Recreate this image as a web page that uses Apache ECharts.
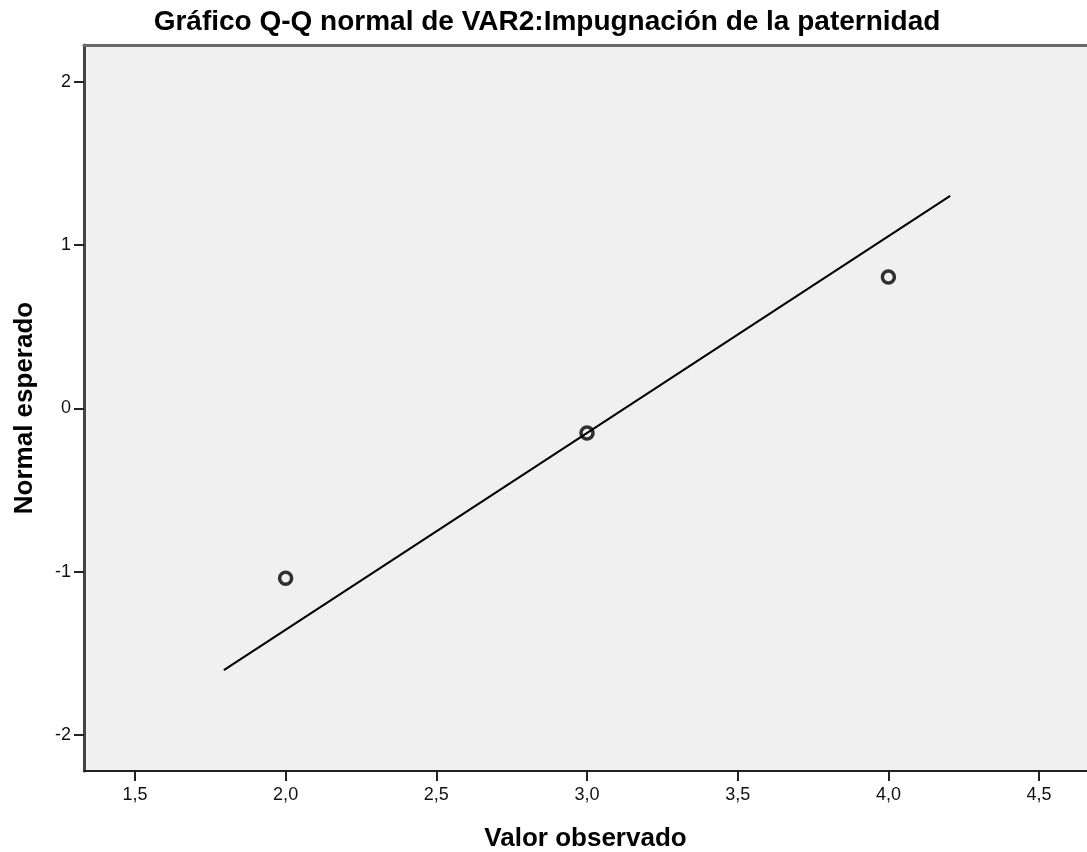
<!DOCTYPE html>
<html>
<head>
<meta charset="utf-8">
<script src="https://cdn.jsdelivr.net/npm/echarts@6/dist/echarts.min.js"></script>
<style>
html,body{margin:0;padding:0;background:#fff;}
#chart{width:1087px;height:852px;}
</style>
</head>
<body>
<div id="chart"></div>
<script>
var titleText = 'Gráfico Q-Q normal de VAR2:Impugnación de la paternidad';
var xName = 'Valor observado';
var yName = 'Normal esperado';
var xTicks = [1.5, 2.0, 2.5, 3.0, 3.5, 4.0, 4.5];
var yTicks = [-2, -1, 0, 1, 2];
var observed = [2.0, 3.0, 4.0];
var expectedNormal = [-1.04, -0.15, 0.805];
var lineX = [1.795, 4.205];
var lineY = [-1.602, 1.302];

var points = observed.map(function (v, i) { return [v, expectedNormal[i]]; });
var linePts = lineX.map(function (v, i) { return [v, lineY[i]]; });
var fmt = function (v) { return Number(v).toFixed(1).replace('.', ','); };
var FONT = '"Liberation Sans", Arial, sans-serif';

var chart = echarts.init(document.getElementById('chart'), null, {renderer: 'canvas'});
chart.setOption({
  animation: false,
  backgroundColor: '#ffffff',
  title: {
    text: titleText,
    left: 542,
    textAlign: 'center',
    top: 3,
    textStyle: {fontFamily: FONT, fontWeight: 'bold', fontSize: 28, color: '#000'}
  },
  grid: {
    left: 84, top: 45, right: 0, bottom: 81,
    outerBoundsMode: 'none',
    containLabel: false,
    show: true, backgroundColor: '#f0f0f0', borderWidth: 0
  },
  xAxis: [{
    type: 'value',
    min: 1.331, max: 4.659,
    name: xName,
    nameLocation: 'middle',
    nameGap: 55,
    nameTextStyle: {fontFamily: FONT, fontWeight: 'bold', fontSize: 26, color: '#000'},
    axisLine: {show: true, onZero: false, lineStyle: {color: '#222', width: 2}},
    axisTick: {show: true, length: 10, customValues: xTicks, lineStyle: {color: '#222', width: 2}},
    axisLabel: {customValues: xTicks, formatter: fmt, margin: 15,
      fontFamily: FONT, fontSize: 18, color: '#111'},
    splitLine: {show: false}
  }, {
    type: 'value',
    position: 'top',
    min: 1.331, max: 4.659,
    axisLine: {show: true, onZero: false, lineStyle: {color: '#6a6a6a', width: 3}},
    axisTick: {show: false},
    axisLabel: {show: false},
    splitLine: {show: false}
  }],
  yAxis: {
    type: 'value',
    min: -2.22, max: 2.226,
    name: yName,
    nameLocation: 'middle',
    nameGap: 46,
    nameTextStyle: {fontFamily: FONT, fontWeight: 'bold', fontSize: 26, color: '#000'},
    axisLine: {show: true, onZero: false, lineStyle: {color: '#444', width: 3}},
    axisTick: {show: true, length: 10, customValues: yTicks, lineStyle: {color: '#222', width: 2}},
    axisLabel: {customValues: yTicks, margin: 13,
      fontFamily: FONT, fontSize: 18, color: '#111'},
    splitLine: {show: false}
  },
  series: [{
    type: 'line',
    data: linePts,
    symbol: 'none',
    lineStyle: {color: '#000', width: 2},
    z: 2
  }, {
    type: 'scatter',
    data: points,
    symbol: 'circle',
    symbolSize: 12,
    itemStyle: {color: 'rgba(0,0,0,0)', borderColor: '#000', borderWidth: 3.5},
    z: 3
  }]
});
</script>
</body>
</html>
